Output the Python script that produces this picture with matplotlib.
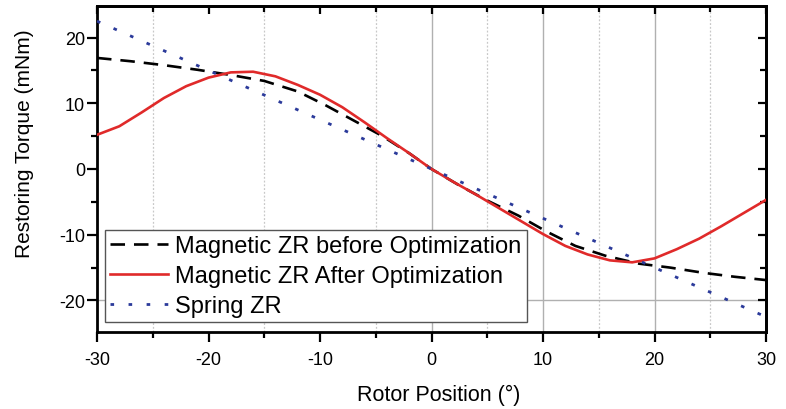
import matplotlib
matplotlib.use("Agg")
import matplotlib.pyplot as plt
from matplotlib.ticker import MultipleLocator

plt.rcParams['font.family'] = ['Liberation Sans', 'DejaVu Sans']
plt.rcParams['axes.unicode_minus'] = False

# Data
x_before = [-30, -27, -24, -21, -18, -15, -12, -9.5, -7, -4.5, -2, 0, 2.5, 5, 7.8, 10.3, 12.9, 15.6, 18.6, 21.4, 24.4, 27.2, 30]
y_before = [16.9, 16.4, 15.8, 15.1, 14.3, 13.4, 11.8, 9.7, 7.4, 5.1, 2.4, 0, -2.5, -4.8, -7.1, -9.5, -11.7, -13.2, -14.4, -15.0, -15.8, -16.4, -16.9]

x_after = [-30, -28, -26, -24, -22, -20, -18, -16, -14, -12, -10, -8, -6, -4, -2, 0,
           2, 4, 6, 8, 10, 12, 14, 16, 18, 20, 22, 24, 26, 28, 30]
y_after = [5.2, 6.5, 8.6, 10.8, 12.6, 13.9, 14.7, 14.8, 14.1, 12.8, 11.3, 9.4, 7.1, 4.7, 2.4, 0,
           -2.0, -3.9, -5.9, -7.9, -9.9, -11.7, -13.0, -13.9, -14.2, -13.6, -12.2, -10.6, -8.7, -6.7, -4.7]

x_spring = [-30, -20, -10, 0, 10, 20, 30]
y_spring = [22.5, 15.0, 7.5, 0, -7.5, -15.0, -22.5]

labels = ["Magnetic ZR before Optimization", "Magnetic ZR After Optimization", "Spring ZR"]
x_major = [-30, -20, -10, 0, 10, 20, 30]
y_major = [-20, -10, 0, 10, 20]

fig = plt.figure(figsize=(7.86, 4.10), dpi=100)
ax = fig.add_axes([97/786, 77/410, 669/786, 326/410])

# grid lines as in the reference
for gx in [0, 10, 20]:
    ax.axvline(gx, color='#b0b0b0', lw=1.0, zorder=0)
for gx in [-25, -15, -5, 5, 15, 25]:
    ax.axvline(gx, color='#c8c8c8', lw=0.9, ls=(0, (1.5, 1.5)), zorder=0)
ax.axhline(-20, color='#b0b0b0', lw=1.0, zorder=0)

l1, = ax.plot(x_before, y_before, color='black', lw=1.9, dashes=(5.5, 3.4), label=labels[0], zorder=3)
l2, = ax.plot(x_after, y_after, color='#e02a2a', lw=1.9, label=labels[1], zorder=4)
l3, = ax.plot(x_spring, y_spring, color='#2b3a9a', lw=2.0, dashes=(1.3, 5.2), label=labels[2], zorder=5)

ax.set_xlim(-30, 30)
ax.set_ylim(-24.8, 24.8)
ax.set_xticks(x_major)
ax.set_yticks(y_major)
ax.xaxis.set_minor_locator(MultipleLocator(5))
ax.yaxis.set_minor_locator(MultipleLocator(5))

ax.tick_params(axis='x', which='both', direction='out', top=False, labelsize=13, width=1.6, pad=6.5)
ax.tick_params(axis='x', which='major', length=7)
ax.tick_params(axis='x', which='minor', length=4)
ax.tick_params(axis='y', which='both', direction='out', right=False, labelsize=13, width=1.6, pad=1.5)
ax.tick_params(axis='y', which='major', length=7)
ax.tick_params(axis='y', which='minor', length=4)

# inward ticks on top and right via secondary axes
axt = ax.secondary_xaxis('top')
axt.set_xticks(x_major)
axt.xaxis.set_minor_locator(MultipleLocator(5))
axt.tick_params(which='both', direction='in', labeltop=False, width=1.6)
axt.tick_params(which='major', length=6)
axt.tick_params(which='minor', length=4)
axr = ax.secondary_yaxis('right')
axr.set_yticks(y_major)
axr.yaxis.set_minor_locator(MultipleLocator(5))
axr.tick_params(which='both', direction='in', labelright=False, width=1.6)
axr.tick_params(which='major', length=6)
axr.tick_params(which='minor', length=4)
for a in (axt, axr):
    for s in a.spines.values():
        s.set_linewidth(2.0)

for s in ax.spines.values():
    s.set_linewidth(2.0)

ax.set_xlabel("Rotor Position (°)", fontsize=15.5)
ax.xaxis.set_label_coords(0.51, -0.158)
ax.set_ylabel("Restoring Torque (mNm)", fontsize=15)
ax.yaxis.set_label_coords(-0.094, 0.58)

leg = ax.legend(handles=[l1, l2, l3], loc='lower left', bbox_to_anchor=(8/669, 10/326),
                borderaxespad=0, fontsize=17, frameon=True,
                fancybox=False, framealpha=1, edgecolor='#555555', handlelength=2.45,
                handletextpad=0.3, labelspacing=0.33, borderpad=0.22)
leg.get_frame().set_linewidth(1.0)
leg.set_zorder(10)

fig.savefig("out.png", dpi=100)
